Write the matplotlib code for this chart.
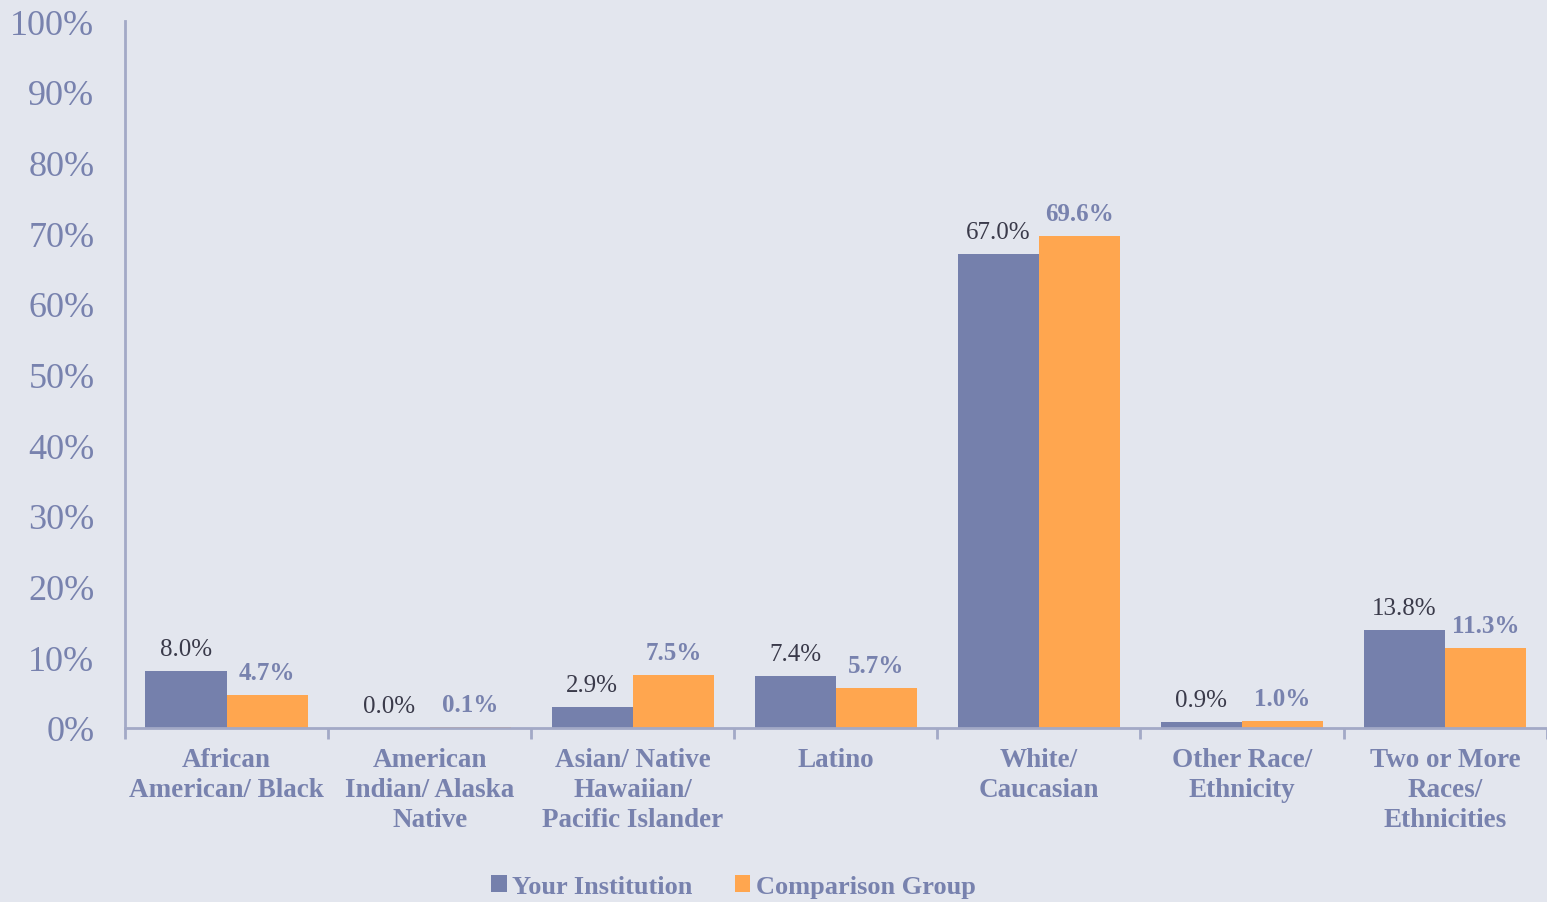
import matplotlib.pyplot as plt
import numpy as np

categories = ['African\nAmerican/ Black', 'American\nIndian/ Alaska\nNative',
              'Asian/ Native\nHawaiian/\nPacific Islander', 'Latino',
              'White/\nCaucasian', 'Other Race/\nEthnicity',
              'Two or More\nRaces/\nEthnicities']
your_institution = [8.0, 0.0, 2.9, 7.4, 67.0, 0.9, 13.8]
comparison_group = [4.7, 0.1, 7.5, 5.7, 69.6, 1.0, 11.3]
yticks = [0, 10, 20, 30, 40, 50, 60, 70, 80, 90, 100]

bg = '#e3e6ee'
blue = '#7580ac'
orange = '#ffa64f'
txt = '#7882ae'
dark = '#3a3a4a'
axcol = '#a3a9c6'

plt.rcParams['font.family'] = ['Liberation Serif', 'DejaVu Serif']

fig = plt.figure(figsize=(15.47, 9.03), dpi=100, facecolor=bg)
ax = fig.add_axes([0.0808, 0.1927, 0.919, 0.7829])
ax.set_facecolor(bg)

x = np.arange(len(categories))
w = 0.4
b1 = ax.bar(x - w / 2, your_institution, w, color=blue, label='Your Institution')
b2 = ax.bar(x + w / 2, comparison_group, w, color=orange, label='Comparison Group')

for rect, v in zip(b1, your_institution):
    ax.annotate(f'{v:.1f}%', (rect.get_x() + rect.get_width() / 2, v),
                xytext=(0, 8), textcoords='offset points', ha='center', va='bottom',
                fontsize=18, color=dark)
for rect, v in zip(b2, comparison_group):
    ax.annotate(f'{v:.1f}%', (rect.get_x() + rect.get_width() / 2, v),
                xytext=(0, 8), textcoords='offset points', ha='center', va='bottom',
                fontsize=18, color=txt, fontweight='bold')

ax.set_xlim(-0.5, len(categories) - 0.5)
ax.set_ylim(0, 100)
ax.set_yticks(yticks)
ax.set_yticklabels([f'{t}%' for t in yticks], fontsize=26, color=txt)
ax.tick_params(axis='y', length=0, pad=22)

ax.set_xticks(x)
ax.set_xticklabels(categories, fontsize=19.5, color=txt, fontweight='bold', linespacing=1.25)
ax.set_xticks(np.arange(len(categories) + 1) - 0.5, minor=True)
ax.tick_params(axis='x', which='major', length=0, pad=14)
ax.tick_params(axis='x', which='minor', length=8, color=axcol, width=2)

for s in ['top', 'right']:
    ax.spines[s].set_visible(False)
for s in ['left', 'bottom']:
    ax.spines[s].set_color(axcol)
    ax.spines[s].set_linewidth(2)

leg = fig.legend(loc='lower center', bbox_to_anchor=(0.474, -0.022), ncol=2, frameon=False,
                 prop={'size': 19, 'weight': 'bold'}, handlelength=0.6, handleheight=0.6,
                 handletextpad=0.2, columnspacing=1.6)
for t in leg.get_texts():
    t.set_color(txt)

fig.savefig('out.png', dpi=100, facecolor=bg)
